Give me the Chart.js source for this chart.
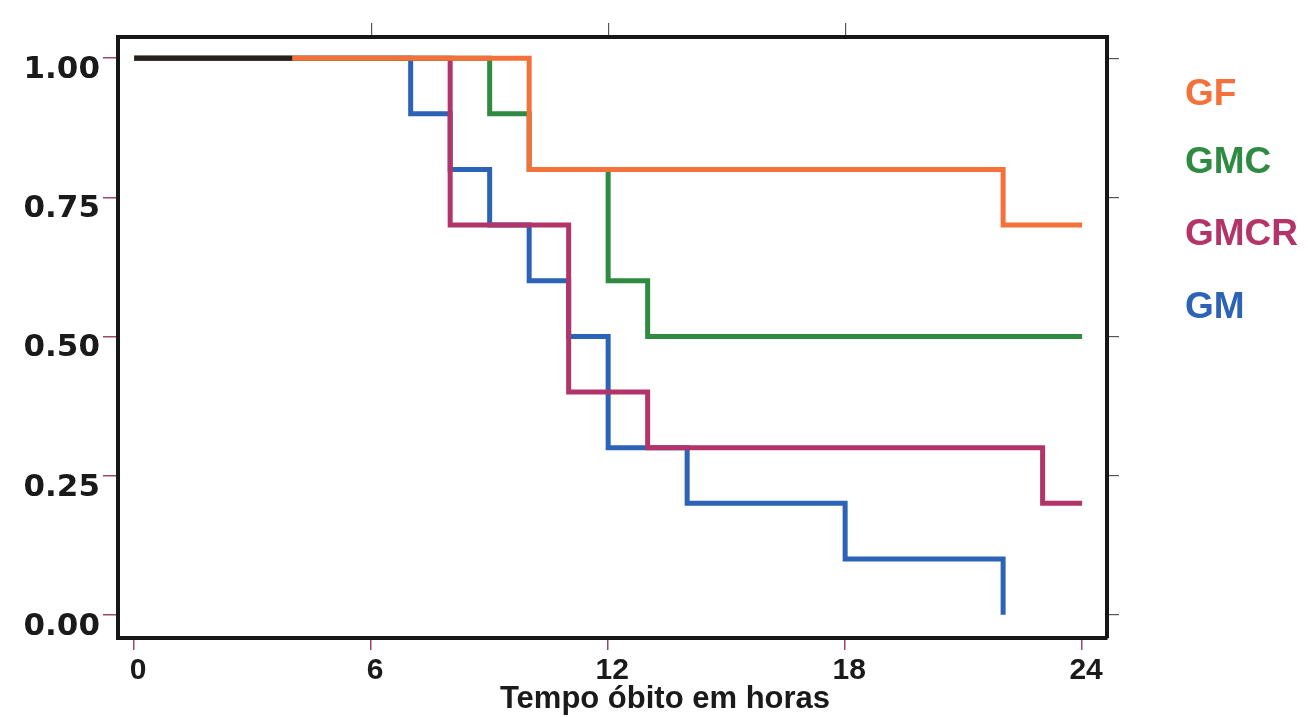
<!DOCTYPE html>
<html>
<head>
<meta charset="utf-8">
<script src="https://cdn.jsdelivr.net/npm/chart.js@4.4.1/dist/chart.umd.min.js"></script>
<style>
  html, body { margin: 0; padding: 0; background: #fff; }
  #wrap { width: 1308px; height: 717px; }
</style>
</head>
<body>
<div id="wrap"><canvas id="graph" width="1308" height="717"></canvas></div>
<script>
// Kaplan-Meier steps: time (hours) where the survival changes, and survival after it
var groups = ['GF', 'GMC', 'GMCR', 'GM'];

var gfTimes = [0, 10, 22, 24];
var gfSurv = [1.0, 0.8, 0.7, 0.7];

var gmcTimes = [0, 9, 10, 12, 13, 24];
var gmcSurv = [1.0, 0.9, 0.8, 0.6, 0.5, 0.5];

var gmcrTimes = [0, 8, 11, 13, 23, 24];
var gmcrSurv = [1.0, 0.7, 0.4, 0.3, 0.2, 0.2];

var gmTimes = [0, 7, 8, 9, 10, 11, 12, 14, 18, 22];
var gmSurv = [1.0, 0.9, 0.8, 0.7, 0.6, 0.5, 0.3, 0.2, 0.1, 0.0];

// common start where all curves overlap
var allTimes = [0, 4];
var allSurv = [1.0, 1.0];

var xTicks = [0, 6, 12, 18, 24];
var xTopTicks = [6, 12, 18];
var yTicks = [0, 0.25, 0.5, 0.75, 1.0];

var colors = ['#f4713b', '#2f8b41', '#b23468', '#2c63b6'];

function pts(times, surv) {
  return times.map(function (t, i) { return { x: t, y: surv[i] }; });
}

function fixTicks(list) {
  return function (scale) {
    scale.ticks = list.map(function (v) { return { value: v }; });
  };
}

var xMin = -0.41, xMax = 24.63;
var yMin = -0.042, yMax = 1.038;

var legendPlugin = {
  id: 'sideText',
  afterDraw: function (chart) {
    var ctx = chart.ctx;
    ctx.save();
    ctx.font = 'bold 37px "Liberation Sans", Arial, sans-serif';
    ctx.textAlign = 'left';
    ctx.textBaseline = 'alphabetic';
    var baselines = [105, 173, 245, 318];
    groups.forEach(function (g, i) {
      ctx.fillStyle = colors[i];
      ctx.fillText(g, 1185, baselines[i]);
    });
    ctx.fillStyle = '#1a1a1a';
    ctx.font = 'bold 31px "Liberation Sans", Arial, sans-serif';
    ctx.textAlign = 'center';
    ctx.fillText('Tempo óbito em horas', 665, 708);
    ctx.restore();
  }
};

function line(label, data, color, order) {
  return {
    label: label,
    data: data,
    borderColor: color,
    backgroundColor: color,
    borderWidth: 5,
    stepped: true,
    pointRadius: 0,
    fill: false,
    order: order
  };
}

var ctx = document.getElementById('graph').getContext('2d');

new Chart(ctx, {
  type: 'line',
  data: {
    datasets: [
      line('todos', pts(allTimes, allSurv), '#222222', 0),
      line('GF', pts(gfTimes, gfSurv), colors[0], 1),
      line('GMC', pts(gmcTimes, gmcSurv), colors[1], 2),
      line('GMCR', pts(gmcrTimes, gmcrSurv), colors[2], 3),
      line('GM', pts(gmTimes, gmSurv), colors[3], 4)
    ]
  },
  options: {
    responsive: false,
    animation: false,
    layout: { padding: 0 },
    plugins: {
      legend: { display: false },
      tooltip: { enabled: false }
    },
    scales: {
      x: {
        type: 'linear',
        position: 'bottom',
        min: xMin,
        max: xMax,
        afterBuildTicks: fixTicks(xTicks),
        afterFit: function (s) { s.height = 79; },
        grid: { drawOnChartArea: false, drawTicks: true, tickLength: 12, color: '#9a4a5c', lineWidth: 1.5 },
        border: { display: true, color: '#161616', width: 4 },
        ticks: {
          padding: 3,
          labelOffset: 4,
          color: '#1a1a1a',
          font: { family: '"Liberation Sans", Arial, sans-serif', weight: 'bold', size: 30 }
        }
      },
      xTop: {
        type: 'linear',
        position: 'top',
        min: xMin,
        max: xMax,
        afterBuildTicks: fixTicks(xTopTicks),
        afterFit: function (s) { s.height = 37; },
        grid: { drawOnChartArea: false, drawTicks: true, tickLength: 14, color: '#555', lineWidth: 1.2 },
        border: { display: true, color: '#161616', width: 4 },
        ticks: { display: false }
      },
      y: {
        type: 'linear',
        position: 'left',
        min: yMin,
        max: yMax,
        afterBuildTicks: fixTicks(yTicks),
        afterFit: function (s) { s.width = 118; },
        grid: { drawOnChartArea: false, drawTicks: true, tickLength: 15, color: '#9a4a5c', lineWidth: 1.5 },
        border: { display: true, color: '#161616', width: 4 },
        ticks: {
          padding: 3,
          labelOffset: 12,
          color: '#1a1a1a',
          font: { family: '"DejaVu Sans", sans-serif', weight: 'bold', size: 31 },
          callback: function (v) { return v.toFixed(2); }
        }
      },
      yRight: {
        type: 'linear',
        position: 'right',
        min: yMin,
        max: yMax,
        afterBuildTicks: fixTicks(yTicks),
        afterFit: function (s) { s.width = 201; },
        grid: { drawOnChartArea: false, drawTicks: true, tickLength: 12, color: '#555', lineWidth: 1.2 },
        border: { display: true, color: '#161616', width: 4 },
        ticks: { display: false }
      }
    }
  },
  plugins: [legendPlugin]
});
</script>
</body>
</html>
